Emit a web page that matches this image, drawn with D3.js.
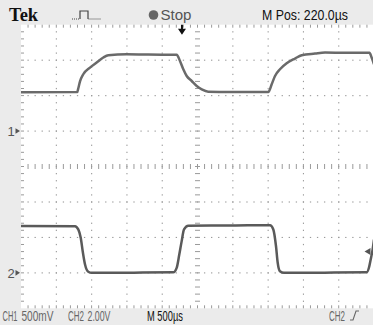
<!DOCTYPE html>
<html>
<head>
<meta charset="utf-8">
<script src="https://cdn.jsdelivr.net/npm/d3@7"></script>
<style>
  html, body { margin: 0; padding: 0; background: #ffffff; }
  svg { display: block; }
  text { font-family: "Liberation Sans", Arial, sans-serif; }
</style>
</head>
<body>
<svg id="scope" width="373" height="325"></svg>
<script>
// ---- Acquired waveforms: time in µs from the left edge of the screen, amplitude in volts ----
const ch1Time  = [0, 797, 811, 836, 882, 977, 1072, 1166, 1237, 1497, 1800, 2205,
                  2252, 2299, 2347, 2418, 2489, 2560, 2653, 3000, 3503,
                  3551, 3598, 3668, 3763, 3881, 3976, 4164, 4306, 4600, 4936, 4965, 4986, 5000];
const ch1Volts = [0.547, 0.551, 0.600, 0.700, 0.801, 0.895, 0.966, 1.037, 1.069, 1.083, 1.078, 1.076,
                  0.989, 0.871, 0.777, 0.706, 0.636, 0.589, 0.556, 0.552, 0.551,
                  0.660, 0.777, 0.871, 0.956, 1.023, 1.069, 1.093, 1.107, 1.104, 1.104, 1.041, 0.984, 0.942];

const ch2Time  = [0, 765, 811, 846, 874, 907, 953, 1001, 1600, 2157,
                  2205, 2242, 2276, 2309, 2370, 3000, 3527,
                  3574, 3612, 3636, 3668, 3725, 4300, 4896, 4929, 4953, 4981, 5000];
const ch2Volts = [2.64, 2.63, 2.45, 1.98, 1.22, 0.47, 0.06, 0.00, 0.01, 0.03,
                  0.28, 1.03, 1.79, 2.45, 2.66, 2.67, 2.69,
                  2.45, 1.50, 0.57, 0.09, 0.00, 0.01, 0.03, 0.30, 0.75, 1.32, 1.88];

// ---- Instrument settings ----
const timePerDiv   = 500;   // µs/div
const ch1VoltsDiv  = 0.5;   // V/div
const ch2VoltsDiv  = 2.0;   // V/div
const ch1Position  = 1;     // div above centre
const ch2Position  = -3;    // div above centre
const triggerTime  = 2280;  // µs
const triggerLevel = 1.2;   // V on CH2

// ---- Readout text ----
const headerBrand  = "Tek";
const headerState  = "Stop";
const headerMPos   = "M Pos: 220.0µs";
const footerLabels = ["CH1", "500mV", "CH2", "2.00V", "M 500µs", "CH2"];

const svg = d3.select("#scope");
const W = 373, H = 325;
const frameFill = "#ebebeb";

const plotLeft = 21, plotTop = 24.7, divW = 35.3, divH = 35.45;
const hDivs = 10, vDivs = 8;

// Horizontal: time → screen, vertical: divisions → screen
const x = d3.scaleLinear().domain([0, timePerDiv * hDivs]).range([plotLeft, plotLeft + divW * hDivs]);
const yDiv = d3.scaleLinear().domain([-vDivs / 2, vDivs / 2]).range([plotTop + divH * vDivs, plotTop]);
const y1 = v => yDiv(ch1Position + v / ch1VoltsDiv);
const y2 = v => yDiv(ch2Position + v / ch2VoltsDiv);

// Condensed readout text: draw at full size, then squeeze horizontally to a set width
function readout(str, x0, y0, width, size, fill) {
  const t = svg.append("text")
    .attr("font-size", size).attr("fill", fill).text(str);
  const natural = t.node().getComputedTextLength();
  t.attr("transform", `translate(${x0},${y0}) scale(${width / natural},1)`);
  return t;
}

// Bezel
svg.append("rect").attr("width", W).attr("height", H).attr("fill", frameFill);
svg.append("rect")
  .attr("x", plotLeft).attr("y", plotTop)
  .attr("width", W - plotLeft).attr("height", yDiv(-4) - plotTop)
  .attr("fill", "#ffffff");

// ---- Graticule ----
const g = svg.append("g").attr("fill", "#9a9a9a");
const minorT = d3.range(0, hDivs * 5 + 1).map(i => i * timePerDiv / 5);
const minorD = d3.range(0, vDivs * 5 + 1).map(i => -vDivs / 2 + i / 5);
const majorT = d3.range(1, hDivs).filter(i => i !== 5).map(i => i * timePerDiv);
const majorD = d3.range(-3, 4).filter(d => d !== 0);

// dotted vertical lines
majorT.forEach(t => {
  g.selectAll(null).data(minorD.slice(1, -1)).join("rect")
    .attr("x", x(t) - 0.5).attr("y", d => yDiv(d) - 0.6)
    .attr("width", 1.1).attr("height", 1.3);
});
// dotted horizontal lines
majorD.forEach(d => {
  g.selectAll(null).data(minorT.slice(1)).join("rect")
    .attr("x", t => x(t) - 0.6).attr("y", yDiv(d) - 0.5)
    .attr("width", 1.3).attr("height", 1.1);
});

const tk = svg.append("g").attr("stroke", "#9a9a9a").attr("stroke-width", 1);
// centre horizontal axis ticks
tk.selectAll(null).data(minorT.slice(1)).join("line")
  .attr("x1", t => x(t)).attr("x2", t => x(t))
  .attr("y1", yDiv(0) - 2.5).attr("y2", yDiv(0) + 2.5);
// centre vertical axis ticks
tk.selectAll(null).data(minorD.slice(1, -1)).join("line")
  .attr("x1", x(2500) - 2.5).attr("x2", x(2500) + 2.5)
  .attr("y1", d => yDiv(d)).attr("y2", d => yDiv(d));
// edge ticks: top, bottom, left
tk.selectAll(null).data(minorT.slice(1)).join("line")
  .attr("x1", t => x(t)).attr("x2", t => x(t))
  .attr("y1", yDiv(4)).attr("y2", yDiv(4) + 3);
tk.selectAll(null).data(minorT.slice(1)).join("line")
  .attr("x1", t => x(t)).attr("x2", t => x(t))
  .attr("y1", yDiv(-4) - 3).attr("y2", yDiv(-4));
tk.selectAll(null).data(minorD.slice(1, -1)).join("line")
  .attr("x1", x(0)).attr("x2", x(0) + 3)
  .attr("y1", d => yDiv(d)).attr("y2", d => yDiv(d));

// ---- Traces ----
const ch1Line = d3.line().x(d => x(d[0])).y(d => y1(d[1])).curve(d3.curveMonotoneX);
const ch2Line = d3.line().x(d => x(d[0])).y(d => y2(d[1])).curve(d3.curveMonotoneX);

svg.append("path")
  .datum(d3.zip(ch1Time, ch1Volts))
  .attr("d", ch1Line)
  .attr("fill", "none").attr("stroke", "#6a6a6a")
  .attr("stroke-width", 2.5).attr("stroke-linejoin", "round");

svg.append("path")
  .datum(d3.zip(ch2Time, ch2Volts))
  .attr("d", ch2Line)
  .attr("fill", "none").attr("stroke", "#5a5a5a")
  .attr("stroke-width", 2.5).attr("stroke-linejoin", "round");

// ---- Channel ground markers ----
[[1, y1(0)], [2, y2(0)]].forEach(([n, yy]) => {
  svg.append("text").attr("x", 7.5).attr("y", yy + 5)
    .attr("font-size", 13).attr("fill", "#555").text(n);
  svg.append("path")
    .attr("d", `M${15.5},${yy - 2.8} L${20},${yy} L${15.5},${yy + 2.8} Z`)
    .attr("fill", "#555");
});

// Trigger level marker (right edge)
const ty = y2(triggerLevel);
svg.append("path")
  .attr("d", `M364.5,${ty} L370.5,${ty - 3.5} L370.5,${ty + 3.5} Z`)
  .attr("fill", "#555");

// Trigger position arrow (top)
const tx = x(triggerTime);
svg.append("path")
  .attr("d", `M${tx - 1},${plotTop} L${tx + 1},${plotTop} L${tx + 1},${plotTop + 4} L${tx + 4},${plotTop + 4}
              L${tx},${plotTop + 10} L${tx - 4},${plotTop + 4} L${tx - 1},${plotTop + 4} Z`)
  .attr("fill", "#111");

// ---- Header ----
svg.append("text").attr("x", 9).attr("y", 20.5)
  .attr("font-weight", "bold").attr("font-size", 18.5).attr("fill", "#111")
  .style("font-family", "'Liberation Serif', 'DejaVu Serif', serif")
  .text(headerBrand);

// acquisition-mode glyph
svg.append("path")
  .attr("d", "M80,19 L80,11 L88,11 L88,19")
  .attr("fill", "none").attr("stroke", "#444").attr("stroke-width", 1.2);
svg.append("path")
  .attr("d", "M72,19 L79.5,19 M88.5,19 L101,19")
  .attr("fill", "none").attr("stroke", "#444").attr("stroke-width", 1.2)
  .attr("stroke-dasharray", "1,1");

svg.append("circle").attr("cx", 153.5).attr("cy", 15).attr("r", 4.8).attr("fill", "#666");
readout(headerState, 160.5, 20, 31, 14, "#555");
readout(headerMPos, 262, 20, 86, 14, "#111");

// ---- Footer ----
const footerX   = [2.5, 21.5, 68, 87.5, 147, 329];
const footerLen = [15, 32, 16, 23, 36, 16];
const footerCol = ["#666", "#666", "#666", "#666", "#111", "#666"];
footerLabels.forEach((s, i) => readout(s, footerX[i], 320.5, footerLen[i], 14, footerCol[i]));

// rising-edge trigger slope glyph
svg.append("path")
  .attr("d", "M350,320 L353,320 L356,311 L359,311")
  .attr("fill", "none").attr("stroke", "#666").attr("stroke-width", 1.1);
</script>
</body>
</html>
